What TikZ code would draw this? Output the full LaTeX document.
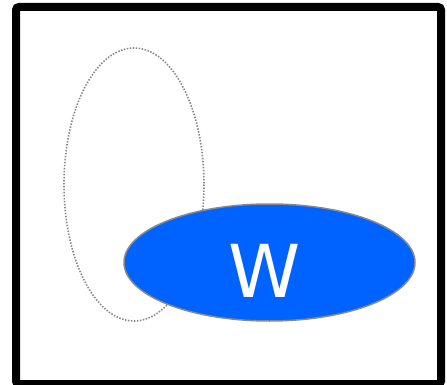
\documentclass[tikz,border=0pt]{standalone}
\usepackage{fontspec}
\setsansfont{DejaVu Sans}
\definecolor{wblue}{HTML}{0062FF}
\definecolor{rimgray}{HTML}{888888}
\begin{document}
\begin{tikzpicture}[x=1pt,y=-1pt,
  frame/.style={draw=black,line width=8pt,rounded corners=3pt},
  ghost/.style={draw=rimgray,line width=1.6pt,dash pattern=on 1.5pt off 1.5pt},
  blob/.style={draw=rimgray,line width=1.5pt,fill=wblue}]
  \useasboundingbox (0,0) rectangle (447,385);
  % outer frame
  \draw[frame] (16,7) rectangle (441,384);
  % dotted outline behind the filled shape
  \draw[ghost] (134,184.5) ellipse [x radius=70, y radius=136.5];
  % filled ellipse with its label
  \draw[blob] (269.5,262.5) ellipse [x radius=145.5, y radius=58.5];
  \node[text=white,font=\sffamily\fontsize{73}{73}\selectfont,anchor=base] (w) at (265,297) {W};
\end{tikzpicture}
\end{document}
